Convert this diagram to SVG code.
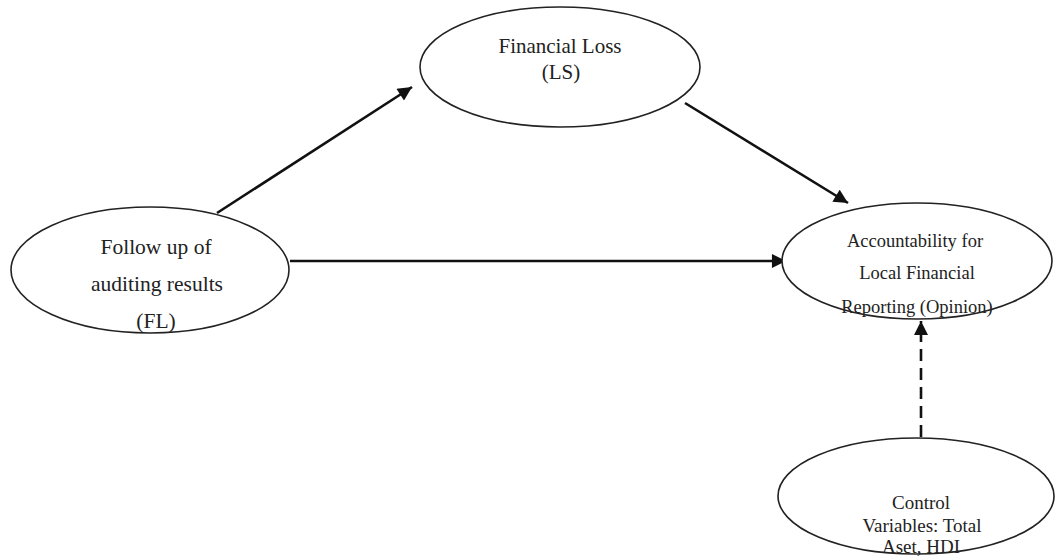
<svg xmlns="http://www.w3.org/2000/svg" width="1056" height="558" viewBox="0 0 1056 558">
<defs>
<style>
.node ellipse{fill:#fff;stroke:#222;stroke-width:1.6}
.lbl{font-family:"Liberation Serif","Times New Roman",serif;fill:#222;text-anchor:middle}
.edge{stroke:#111;stroke-width:2.6;fill:none}
.dash{stroke-dasharray:12 7}
</style>
<marker id="ah" viewBox="0 0 10 10" refX="10" refY="5" markerWidth="6" markerHeight="5.4" markerUnits="strokeWidth" orient="auto">
<path d="M0,0 L10,5 L0,10 z" fill="#111"/>
</marker>
</defs>
<rect width="1056" height="558" fill="#fff"/>
<g id="connectors">
<line class="edge" x1="217" y1="213" x2="412" y2="87" marker-end="url(#ah)"/>
<line class="edge" x1="685" y1="103" x2="848" y2="203" marker-end="url(#ah)"/>
<line class="edge" x1="290" y1="261" x2="786" y2="261" marker-end="url(#ah)"/>
<line class="edge dash" x1="921" y1="437" x2="921" y2="321" marker-end="url(#ah)"/>
</g>
<g id="node-fl" class="node">
<ellipse cx="150" cy="270" rx="139" ry="63"/>
<text class="lbl" font-size="21.5" x="156" y="254">Follow up of</text>
<text class="lbl" font-size="21.5" x="157" y="291">auditing results</text>
<text class="lbl" font-size="21.5" x="156" y="328">(FL)</text>
</g>
<g id="node-ls" class="node">
<ellipse cx="560" cy="67" rx="140" ry="60"/>
<text class="lbl" font-size="21" x="560" y="53">Financial Loss</text>
<text class="lbl" font-size="21" x="561" y="79">(LS)</text>
</g>
<g id="node-opinion" class="node">
<ellipse cx="917" cy="261" rx="135" ry="58"/>
<text class="lbl" font-size="18.5" x="915" y="247">Accountability for</text>
<text class="lbl" font-size="18.5" x="917" y="279">Local Financial</text>
<text class="lbl" font-size="18.5" x="917" y="313">Reporting (Opinion)</text>
</g>
<g id="node-control" class="node">
<ellipse cx="916" cy="496" rx="138" ry="58"/>
<text class="lbl" font-size="19" x="921" y="509">Control</text>
<text class="lbl" font-size="19" x="922" y="532">Variables: Total</text>
<text class="lbl" font-size="19" x="921" y="553">Aset, HDI</text>
</g>
</svg>
